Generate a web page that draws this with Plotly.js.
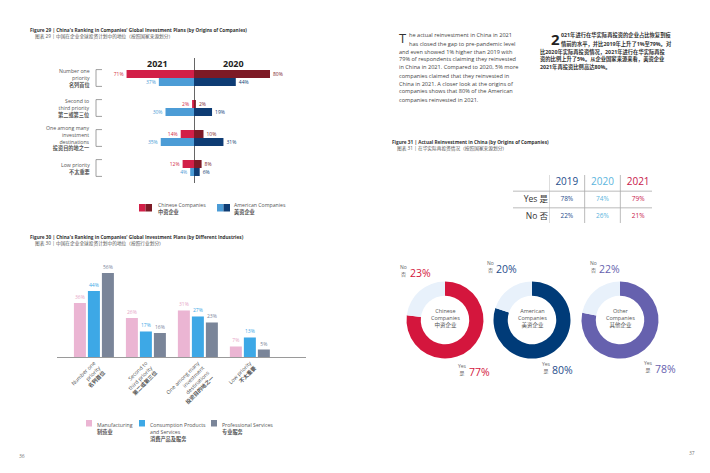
<!DOCTYPE html>
<html><head><meta charset="utf-8">
<script src="https://cdn.plot.ly/plotly-3.0.1.min.js"></script>
<style>html,body{margin:0;padding:0;background:#fff}#chart{width:710px;height:473px}</style>
</head><body><div id="chart"></div>
<script>
const W = 710, H = 473;
const px = x => x / W, py = y => 1 - y / H;
const FONT = 'Open Sans, Noto Sans CJK SC, sans-serif';

// ---------- Figure 29 data ----------
const rank29 = ['Number one priority', 'Second to third priority', 'One among many investment destinations', 'Low priority'];
const rank29Labels = ['Number one<br>priority<br><b>名列首位</b>', 'Second to<br>third priority<br><b>第二或第三位</b>', 'One among many<br>investment<br>destinations<br><b>投资目的地之一</b>', 'Low priority<br><b>不太重要</b>'];
const cn2021 = [71, 2, 14, 12];
const cn2020 = [80, 2, 10, 8];
const us2021 = [37, 30, 35, 4];
const us2020 = [44, 19, 31, 6];

// ---------- Figure 30 data ----------
const rank30 = rank29;
const rank30Labels = ['Number one<br>priority<br><b>名列首位</b>', 'Second to<br>third priority<br><b>第二或第三位</b>', 'One among many<br>investment<br>destinations<br><b>投资目的地之一</b>', 'Low priority<br><b>不太重要</b>'];
const manufacturing = [36, 26, 31, 7];
const consumption = [44, 17, 27, 13];
const professional = [56, 16, 23, 5];

// ---------- Figure 31 data ----------
const years = ['2019', '2020', '2021'];
const yesVals = [78, 74, 79];
const noVals = [22, 26, 21];
const rowLabels = ['Yes 是', 'No 否'];

// ---------- Donuts ----------
const donutNames = ['Chinese<br>Companies<br>中资企业', 'American<br>Companies<br>美资企业', 'Other<br>Companies<br>其他企业'];
const donutYes = [77, 80, 78];
const donutNo = [23, 20, 22];

// ---------- Text ----------
const enLines = ['he actual reinvestment in China in 2021', 'has closed the gap to pre-pandemic level', 'and even showed 1% higher than 2019 with', '79% of respondents claiming they reinvested', 'in China in 2021. Compared to 2020, 5% more', 'companies claimed that they reinvested in', 'China in 2021. A closer look at the origins of', 'companies shows that 80% of the American', 'companies reinvested in 2021.'];
const zhLines = ['021年进行在华实际再投资的企业占比恢复到疫', '情前的水平，并比2019年上升了1%至79%。对', '比2020年实际再投资情况，2021年进行在华实际再投', '资的比例上升了5%。从企业国家来源来看，美资企业', '2021年再投资比例高达80%。'];

// styles
const C = {cn21: '#D21F47', cn20: '#7D1A26', us21: '#4C9CD6', us20: '#0E3C74',
  man: '#EBB5D3', con: '#3DA8E6', pro: '#7A8599', manT: '#E6A6C6',
  y19: '#1F4E8C', y20: '#5BB5DD', y21: '#C8174A', noSlice: '#E8F1FB'};
const donutColors = ['#D4163D', '#003B78', '#6661AE'];
const donutPctColors = ['#D4163D', '#1F4E8C', '#6661AE'];

const traces = [];
const BW29 = 8 / 30;
function hbar(vals, neg, color, tcolor, off) {
  return {type: 'bar', orientation: 'h', y: rank29, x: vals.map(v => neg ? -v : v),
    text: vals.map(v => v + '%'), textposition: 'outside', constraintext: 'none', cliponaxis: false,
    textfont: {size: 5, color: tcolor, family: FONT}, marker: {color: color},
    width: BW29, offset: off, xaxis: 'x', yaxis: 'y', hoverinfo: 'skip', showlegend: false};
}
traces.push(hbar(cn2021, true, C.cn21, C.cn21, -BW29));
traces.push(hbar(cn2020, false, C.cn20, C.cn20, -BW29));
traces.push(hbar(us2021, true, C.us21, C.us21, 0));
traces.push(hbar(us2020, false, C.us20, C.us20, 0));

const BW30 = 12 / 52;
function vbar(vals, color, tcolor, off) {
  return {type: 'bar', x: rank30, y: vals, text: vals.map(v => v + '%'), textposition: 'outside',
    constraintext: 'none', cliponaxis: false, textfont: {size: 5, color: tcolor, family: FONT},
    marker: {color: color}, width: BW30, offset: off, xaxis: 'x2', yaxis: 'y2', hoverinfo: 'skip', showlegend: false};
}
traces.push(vbar(manufacturing, C.man, C.manT, -20 / 52));
traces.push(vbar(consumption, C.con, C.con, -6 / 52));
traces.push(vbar(professional, C.pro, C.pro, 8 / 52));

// table as text trace
const yearColors = [C.y19, C.y20, C.y21];
traces.push({type: 'scatter', mode: 'text', x: years, y: years.map(() => 'h'), text: years,
  textfont: {size: 10, color: yearColors, family: FONT}, xaxis: 'x3', yaxis: 'y3', hoverinfo: 'skip', showlegend: false, cliponaxis: false});
traces.push({type: 'scatter', mode: 'text', x: years.concat(years),
  y: years.map(() => rowLabels[0]).concat(years.map(() => rowLabels[1])),
  text: yesVals.concat(noVals).map(v => v + '%'),
  textfont: {size: 6.5, color: yearColors.concat(yearColors), family: FONT}, xaxis: 'x3', yaxis: 'y3', hoverinfo: 'skip', showlegend: false, cliponaxis: false});

// donuts
const donutCx = [445, 532, 620], donutCy = 320, R = 38.5;
donutNames.forEach((n, i) => {
  traces.push({type: 'pie', values: [donutYes[i], donutNo[i]], labels: ['Yes', 'No'], sort: false,
    direction: 'clockwise', rotation: 0, hole: 0.63, textinfo: 'none', hoverinfo: 'skip',
    marker: {colors: [donutColors[i], C.noSlice]}, showlegend: false,
    domain: {x: [px(donutCx[i] - R), px(donutCx[i] + R)], y: [py(donutCy + R), py(donutCy - R)]}});
});

const ann = [], shapes = [];
function T(text, x, y, size, opts) {
  ann.push(Object.assign({text: text, x: px(x), y: py(y), xref: 'paper', yref: 'paper', showarrow: false,
    xanchor: 'left', yanchor: 'middle', align: 'left', font: {size: size, color: '#333', family: FONT}}, opts || {}));
}

// titles
T("<b>Figure 29 | China's Ranking in Companies' Global Investment Plans (by Origins of Companies)</b>", 28, 30, 4.7);
T('图表 29 | 中国在企业全球投资计划中的地位（按照国家来源划分）', 32.5, 36.5, 4.7, {font: {size: 4.7, color: '#555', family: FONT}});
T("<b>Figure 30 | China's Ranking in Companies' Global Investment Plans (by Different Industries)</b>", 28, 237, 4.7);
T('图表 30 | 中国在企业全球投资计划中的地位（按照行业划分）', 32.5, 243.5, 4.7, {font: {size: 4.7, color: '#555', family: FONT}});
T("<b>Figure 31 | Actual Reinvestment in China (by Origins of Companies)</b>", 390, 142, 4.7);
T('图表 31 | 在华实际再投资情况（按照国家来源划分）', 394.5, 148.5, 4.7, {font: {size: 4.7, color: '#555', family: FONT}});

// fig 29 year headers
T('<b>2021</b>', 157, 64, 9, {xanchor: 'center', font: {size: 9, color: '#222', family: FONT}});
T('<b>2020</b>', 233, 64, 9, {xanchor: 'center', font: {size: 9, color: '#222', family: FONT}});
// fig 29 category labels + brackets
rank29.forEach((r, i) => {
  ann.push({text: rank29Labels[i], x: px(92), y: i, xref: 'paper', yref: 'y', xanchor: 'right', yanchor: 'middle',
    align: 'right', showarrow: false, font: {size: 5.2, color: '#555', family: FONT}});
  const l = {color: '#888', width: 0.8};
  shapes.push({type: 'line', xref: 'paper', yref: 'y', x0: px(96), x1: px(96), y0: i - 0.28, y1: i + 0.28, line: l});
  shapes.push({type: 'line', xref: 'paper', yref: 'y', x0: px(96), x1: px(102), y0: i - 0.28, y1: i - 0.28, line: l});
  shapes.push({type: 'line', xref: 'paper', yref: 'y', x0: px(96), x1: px(102), y0: i + 0.28, y1: i + 0.28, line: l});
});
// fig 29 legend
function rect(x0, x1, y0, y1, color) {
  shapes.push({type: 'rect', xref: 'paper', yref: 'paper', x0: px(x0), x1: px(x1), y0: py(y1), y1: py(y0), fillcolor: color, line: {width: 0}});
}
rect(139, 145.5, 204, 211.5, C.cn21); rect(145.5, 152, 204, 211.5, C.cn20);
rect(217, 223.5, 204, 211.5, C.us21); rect(223.5, 230, 204, 211.5, C.us20);
T('Chinese Companies<br><b>中资企业</b>', 156, 208, 5.2, {font: {size: 5.2, color: '#555', family: FONT}});
T('American Companies<br><b>美资企业</b>', 232, 208, 5.2, {font: {size: 5.2, color: '#555', family: FONT}});

// fig 30 legend
rect(86, 92, 420, 426.5, C.man); rect(139, 145, 420, 426.5, C.con); rect(211, 217, 420, 426.5, C.pro);
T('Manufacturing<br><b>制造业</b>', 95, 422, 5.2, {yanchor: 'top', y: py(419), font: {size: 5.2, color: '#555', family: FONT}});
T('Consumption Products<br>and Services<br><b>消费产品及服务</b>', 148, 422, 5.2, {yanchor: 'top', y: py(419), font: {size: 5.2, color: '#555', family: FONT}});
T('Professional Services<br><b>专业服务</b>', 220, 422, 5.2, {yanchor: 'top', y: py(419), font: {size: 5.2, color: '#555', family: FONT}});

// page numbers
T('36', 17, 456, 5, {font: {size: 5, color: '#777', family: FONT}});
T('37', 687, 453, 5, {font: {size: 5, color: '#777', family: FONT}});

// body text
T('T', 397, 38, 13, {font: {size: 13, color: '#333', family: FONT}});
enLines.forEach((s, i) => T(s, i < 2 ? 407 : 396.5, 35.5 + i * 8, 5.6, {font: {size: 5.6, color: '#444', family: FONT}}));
T('<b>2</b>', 548.5, 38.5, 15, {font: {size: 15, color: '#222', family: FONT}});
zhLines.forEach((s, i) => T('<b>' + s + '</b>', i < 2 ? 559 : 537.5, 35.5 + i * 8, 5.3, {font: {size: 5.3, color: '#333', family: FONT}}));

// table lines
const tl = {color: '#aaa', width: 0.8};
[-0.5, 0.5, 1.5].forEach(v => shapes.push({type: 'line', xref: 'x3', yref: 'paper', x0: v, x1: v, y0: py(223), y1: py(175), line: tl}));
[0.5, 1.5].forEach(v => shapes.push({type: 'line', xref: 'paper', yref: 'y3', x0: px(513), x1: px(652), y0: v, y1: v, line: tl}));

// donut labels
const noPos = [[398, 408], [485, 494], [588, 597]], noY = [273, 269, 269];
const yesPos = [[456, 467], [540, 550], [642, 653]], yesY = [372, 370, 369];
donutNames.forEach((n, i) => {
  ann.push({text: n, x: px(donutCx[i]), y: py(donutCy - 2), xref: 'paper', yref: 'paper', showarrow: false,
    xanchor: 'center', yanchor: 'middle', align: 'center', font: {size: 5.5, color: '#555', family: FONT}});
  T('No<br>否', noPos[i][0], noY[i] - 2, 5, {font: {size: 5, color: '#666', family: FONT}, align: 'center'});
  T(donutNo[i] + '%', noPos[i][1], noY[i], 10.5, {font: {size: 10.5, color: donutPctColors[i], family: FONT}});
  T('Yes<br>是', yesPos[i][0], yesY[i] - 2, 5, {font: {size: 5, color: '#666', family: FONT}, align: 'center'});
  T(donutYes[i] + '%', yesPos[i][1], yesY[i], 10.5, {font: {size: 10.5, color: donutPctColors[i], family: FONT}});
});

const s29 = 0.95;
const layout = {
  width: W, height: H, margin: {l: 0, r: 0, t: 0, b: 0}, paper_bgcolor: '#fff', plot_bgcolor: 'rgba(0,0,0,0)',
  barmode: 'overlay', showlegend: false, font: {family: FONT},
  xaxis: {domain: [px(100), px(300)], range: [-(194 - 100) / s29, (300 - 194) / s29], showticklabels: false, showgrid: false,
    zeroline: true, zerolinecolor: '#666', zerolinewidth: 1, fixedrange: true, anchor: 'y'},
  yaxis: {domain: [py(183), py(58)], type: 'category', categoryarray: rank29, range: [3.5, -2 / 3], showticklabels: false,
    showgrid: false, zeroline: false, fixedrange: true, anchor: 'x'},
  xaxis2: {domain: [px(57), px(306)], type: 'category', categoryarray: rank30, range: [-0.71, 4.08], anchor: 'y2',
    showline: true, linecolor: '#9a9a9a', linewidth: 1, ticks: '', showgrid: false, zeroline: false,
    tickmode: 'array', tickvals: rank30, ticktext: rank30Labels, tickangle: -45, tickfont: {size: 5.3, color: '#555', family: FONT}},
  yaxis2: {domain: [py(357), py(265)], range: [0, 61.3], anchor: 'x2', showticklabels: false, showgrid: false, zeroline: false},
  xaxis3: {domain: [px(549), px(656)], type: 'category', categoryarray: years, range: [-0.5, 2.5], anchor: 'y3',
    showticklabels: false, showgrid: false, zeroline: false, ticks: ''},
  yaxis3: {domain: [py(224.5), py(174.5)], type: 'category', categoryarray: ['h'].concat(rowLabels), range: [2.5, -0.5], anchor: 'x3',
    tickmode: 'array', tickvals: rowLabels, ticktext: rowLabels, ticks: '', ticklabelstandoff: 0,
    tickfont: {size: 8.5, color: '#333', family: FONT}, showgrid: false, zeroline: false},
  annotations: ann, shapes: shapes
};
Plotly.newPlot('chart', traces, layout, {displayModeBar: false, staticPlot: true});
</script></body></html>
